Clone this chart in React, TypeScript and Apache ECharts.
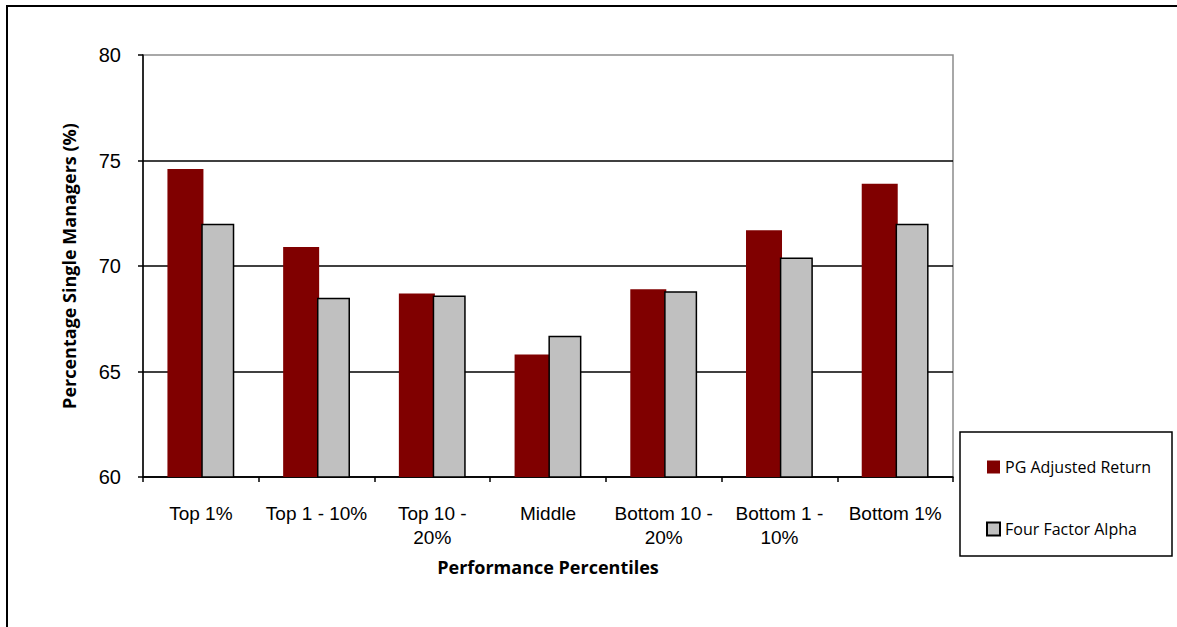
import React, { useEffect, useRef } from "react";
import * as echarts from "echarts";

const categories = [
  "Top 1%",
  "Top 1 - 10%",
  "Top 10 -\n20%",
  "Middle",
  "Bottom 10 -\n20%",
  "Bottom 1 -\n10%",
  "Bottom 1%",
];
const pgAdjustedReturn = [74.6, 70.9, 68.7, 65.8, 68.9, 71.7, 73.9];
const fourFactorAlpha = [72.0, 68.5, 68.6, 66.7, 68.8, 70.4, 72.0];
const yTicks = { min: 60, max: 80, interval: 5 };

export default function App() {
  const ref = useRef<HTMLDivElement>(null);
  useEffect(() => {
    if (!ref.current) return;
    const chart = echarts.init(ref.current, null, { renderer: "svg" });
    chart.setOption({
      animation: false,
      backgroundColor: "#fff",
      grid: {
        left: 143,
        top: 55,
        right: 224,
        bottom: 150,
        show: true,
        borderColor: "#8c8c8c",
        borderWidth: 1.5,
        backgroundColor: "transparent",
      },
      legend: {
        orient: "vertical",
        left: 981,
        top: 452,
        itemWidth: 13,
        itemHeight: 13,
        itemGap: 42,
        icon: "rect",
        textStyle: {
          fontFamily: "Open Sans",
          fontSize: 16,
          color: "#000",
          lineHeight: 20,
        },
        data: ["PG Adjusted Return", "Four Factor Alpha"],
      },
      graphic: [
        {
          type: "rect",
          shape: { x: 7, y: 6, width: 1400, height: 900 },
          style: { fill: "none", stroke: "#000", lineWidth: 2 },
          silent: true,
        },
        {
          type: "rect",
          shape: { x: 960, y: 432, width: 212, height: 124 },
          style: { fill: "none", stroke: "#000", lineWidth: 1.5 },
          silent: true,
        },
      ],
      xAxis: {
        type: "category",
        data: categories,
        name: "Performance Percentiles",
        nameLocation: "middle",
        nameGap: 81,
        nameTextStyle: {
          fontFamily: "Open Sans",
          fontWeight: "bold",
          fontSize: 18,
          color: "#000",
        },
        axisLine: { lineStyle: { color: "#000", width: 1.5 } },
        axisTick: { show: true, length: 5, lineStyle: { color: "#000", width: 1.5 } },
        axisLabel: {
          fontFamily: "Liberation Sans",
          fontSize: 19,
          color: "#000",
          margin: 24,
          lineHeight: 24,
          interval: 0,
        },
        splitLine: { show: false },
      },
      yAxis: {
        type: "value",
        min: yTicks.min,
        max: yTicks.max,
        interval: yTicks.interval,
        name: "Percentage Single Managers (%)",
        nameLocation: "middle",
        nameGap: 65,
        nameTextStyle: {
          fontFamily: "Open Sans",
          fontWeight: "bold",
          fontSize: 18,
          color: "#000",
        },
        axisLine: { show: true, lineStyle: { color: "#000", width: 1.5 } },
        axisTick: { show: true, length: 5, lineStyle: { color: "#000", width: 1.5 } },
        axisLabel: {
          fontFamily: "Liberation Sans",
          fontSize: 20,
          color: "#000",
          margin: 22,
          padding: [5, 0, 0, 0],
        },
        splitLine: {
          show: true,
          showMaxLine: false,
          lineStyle: { color: "#000", width: 1.5 },
        },
      },
      series: [
        {
          name: "PG Adjusted Return",
          type: "bar",
          data: pgAdjustedReturn,
          barWidth: 36,
          barGap: "-6%",
          itemStyle: { color: "#800000" },
        },
        {
          name: "Four Factor Alpha",
          type: "bar",
          data: fourFactorAlpha,
          barWidth: 33,
          itemStyle: { color: "#c0c0c0", borderColor: "#000", borderWidth: 1.5 },
        },
      ],
    });
    return () => chart.dispose();
  }, []);
  return (
    <div
      ref={ref}
      style={{ position: "absolute", left: 0, top: 0, width: 1177, height: 627 }}
    />
  );
}
